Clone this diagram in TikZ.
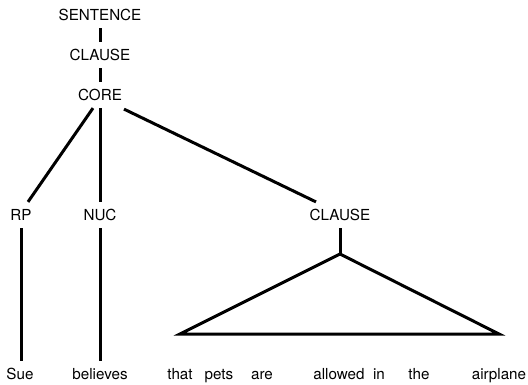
\documentclass[tikz,border=0pt]{standalone}
\usepackage{fontspec}
\setmainfont{TeX Gyre Heros}
\begin{document}
\begin{tikzpicture}[x=1pt,y=-1pt,
  lbl/.style={inner xsep=0pt,inner ysep=7.5pt,text height=10.8pt,text depth=0pt,
    font=\fontsize{15.2}{18}\selectfont,anchor=center},
  edge/.style={line width=3pt,line cap=butt,line join=miter}]
\useasboundingbox (0,0) rectangle (528,384);
% category labels
\node[lbl] (sent)  at (100,15)  {SENTENCE};
\node[lbl] (cl1)   at (100,55)  {CLAUSE};
\node[lbl] (core)  at (100,95)  {CORE};
\node[lbl] (rp)    at (21,215)  {RP};
\node[lbl] (nuc)   at (100,215) {NUC};
\node[lbl] (cl2)   at (340,215) {CLAUSE};
% words of the sentence
\node[lbl] (w1) at (20,374)  {Sue};
\node[lbl] (w2) at (100,374) {believes};
\node[lbl] (w3) at (180,374) {that};
\node[lbl] (w4) at (219,374) {pets};
\node[lbl] (w5) at (262,374) {are};
\node[lbl] (w6) at (339,374) {allowed};
\node[lbl] (w7) at (379,374) {in};
\node[lbl] (w8) at (419,374) {the};
\node[lbl] (w9) at (499,374) {airplane};
% triangle corners
\coordinate (apex) at (340,254);
\coordinate (tl)   at (180,334);
\coordinate (tr)   at (499,334);
% tree edges
\draw[edge] (sent.south) -- (cl1.north);
\draw[edge] (cl1.south) -- (core.north);
\draw[edge] ([xshift=-7pt]core.south) -- ([xshift=7pt]rp.north);
\draw[edge] (core.south) -- (nuc.north);
\draw[edge] ([xshift=24pt,yshift=-1pt]core.south) -- ([xshift=-24pt]cl2.north);
\draw[edge] (rp.south) -- (w1.north -| rp.south);
\draw[edge] (nuc.south) -- (w2.north);
\draw[edge] (cl2.south) -- (apex);
\draw[edge] (apex) -- (tl) -- (tr) -- cycle;
\end{tikzpicture}
\end{document}
